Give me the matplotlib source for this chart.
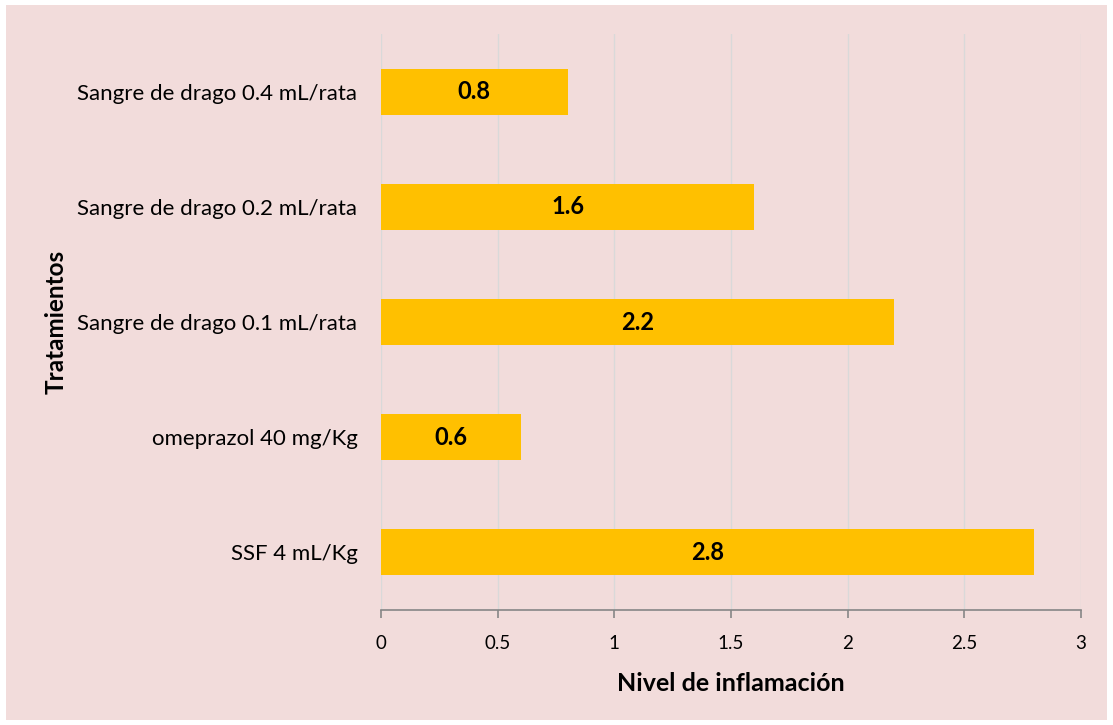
import matplotlib.pyplot as plt
from matplotlib.patches import Rectangle

plt.rcParams['font.family'] = ['Lato', 'DejaVu Sans']

tratamientos = ['SSF 4 mL/Kg', 'omeprazol 40 mg/Kg', 'Sangre de drago 0.1 mL/rata',
                'Sangre de drago 0.2 mL/rata', 'Sangre de drago 0.4 mL/rata']
nivel = [2.8, 0.6, 2.2, 1.6, 0.8]
xticks = [0, 0.5, 1, 1.5, 2, 2.5, 3]
xtick_labels = ['0', '0.5', '1', '1.5', '2', '2.5', '3']

W, H = 1113, 725
fig = plt.figure(figsize=(W / 100, H / 100), dpi=100, facecolor='white')
fig.add_artist(Rectangle((6 / W, 5 / H), 1101 / W, 715 / H, transform=fig.transFigure,
                         facecolor='#F2DCDB', edgecolor='none', zorder=-10))

ax = fig.add_axes([381 / W, 1 - 610 / H, 700 / W, 576 / H])
ax.set_facecolor('none')

bars = ax.barh(range(len(nivel)), nivel, height=0.4, color='#FFC000', zorder=3)
for b, v in zip(bars, nivel):
    ax.text(v / 2, b.get_y() + b.get_height() / 2, str(v), ha='center', va='center',
            fontsize=17, fontweight='bold', color='black', zorder=4)

ax.set_xlim(0, 3)
ax.set_ylim(-0.5, 4.5)
ax.set_xticks(xticks)
ax.set_xticklabels(xtick_labels, fontsize=13.5)
ax.set_yticks(range(len(tratamientos)))
ax.set_yticklabels(tratamientos, fontsize=16)
ax.xaxis.grid(True, color='#D9D9D9', linewidth=1, zorder=0)

for s in ['top', 'right', 'left']:
    ax.spines[s].set_visible(False)
ax.spines['bottom'].set_color('#868686')
ax.spines['bottom'].set_linewidth(1.2)
ax.tick_params(axis='x', length=6, color='#868686', width=1.2, pad=12)
ax.tick_params(axis='y', length=0, pad=17)

ax.set_xlabel('Nivel de inflamación', fontsize=18, fontweight='bold')
ax.set_ylabel('Tratamientos', fontsize=17.5, fontweight='bold')
ax.xaxis.set_label_coords(0.5, -0.107)
ax.yaxis.set_label_coords(-0.447, 0.5)

fig.savefig('out.png', dpi=100, facecolor='white')
